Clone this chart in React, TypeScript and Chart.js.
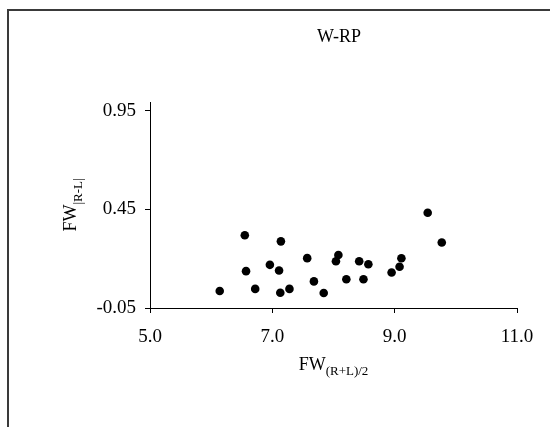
import React, { useEffect, useRef } from "react";
import { Chart, registerables } from "chart.js";

Chart.register(...registerables);

const chartTitle = "W-RP";
const xTitleMain = "FW";
const xTitleSub = "(R+L)/2";
const yTitleMain = "FW";
const yTitleSub = "|R-L|";

const xTicks = [5.0, 7.0, 9.0, 11.0];
const yTicks = [-0.05, 0.45, 0.95];

const xValues = [
  6.14, 6.55, 6.57, 6.72, 6.96, 7.11, 7.14, 7.13, 7.28,
  7.57, 7.68, 7.84, 8.04, 8.08, 8.21, 8.42, 8.49, 8.57,
  8.95, 9.08, 9.11, 9.54, 9.77,
];
const yValues = [
  0.036, 0.319, 0.137, 0.047, 0.169, 0.14, 0.288, 0.027, 0.047,
  0.203, 0.085, 0.026, 0.187, 0.219, 0.096, 0.187, 0.096, 0.172,
  0.13, 0.159, 0.202, 0.433, 0.282,
];

const FONT = '"Liberation Serif", "Times New Roman", serif';

export default function App() {
  const ref = useRef<HTMLCanvasElement>(null);

  useEffect(() => {
    if (!ref.current) return;
    const points = xValues.map((x, i) => ({ x, y: yValues[i] }));

    const textPlugin = {
      id: "customText",
      afterDraw(chart: any) {
        const ctx = chart.ctx as CanvasRenderingContext2D;
        const area = chart.chartArea;
        ctx.save();
        // frame
        ctx.fillStyle = "#3a3a3a";
        ctx.fillRect(7, 9, 543, 2);
        ctx.fillRect(7, 9, 2, 418);

        ctx.fillStyle = "#000";
        ctx.textBaseline = "alphabetic";
        // title
        ctx.font = `18px ${FONT}`;
        ctx.textAlign = "center";
        ctx.fillText(chartTitle, 339, 42);

        // x title
        const cx = (area.left + area.right) / 2;
        ctx.font = `18px ${FONT}`;
        const wMain = ctx.measureText(xTitleMain).width;
        ctx.font = `13px ${FONT}`;
        const wSub = ctx.measureText(xTitleSub).width;
        const startX = cx - (wMain + wSub) / 2;
        ctx.textAlign = "left";
        ctx.font = `18px ${FONT}`;
        ctx.fillText(xTitleMain, startX, 369.5);
        ctx.font = `13px ${FONT}`;
        ctx.fillText(xTitleSub, startX + wMain, 375);

        // y title
        const cy = (area.top + area.bottom) / 2;
        ctx.font = `18px ${FONT}`;
        const ywMain = ctx.measureText(yTitleMain).width;
        ctx.font = `13px ${FONT}`;
        const ywSub = ctx.measureText(yTitleSub).width;
        ctx.translate(76, cy + (ywMain + ywSub) / 2);
        ctx.rotate(-Math.PI / 2);
        ctx.font = `18px ${FONT}`;
        ctx.fillText(yTitleMain, 0, 0);
        ctx.font = `13px ${FONT}`;
        ctx.fillText(yTitleSub, ywMain, 6);
        ctx.restore();
      },
    };

    const chart = new Chart(ref.current, {
      type: "scatter",
      data: {
        datasets: [
          {
            data: points,
            backgroundColor: "#000",
            borderColor: "#000",
            borderWidth: 0,
            pointRadius: 4.3,
            pointHoverRadius: 4.3,
          },
        ],
      },
      options: {
        responsive: false,
        animation: false,
        devicePixelRatio: 1,
        layout: { padding: { top: 102, right: 33, left: 0, bottom: 0 } },
        plugins: {
          legend: { display: false },
          title: { display: false },
          tooltip: { enabled: false },
        },
        scales: {
          x: {
            type: "linear",
            min: xTicks[0],
            max: xTicks[xTicks.length - 1],
            afterBuildTicks: (s: any) => {
              s.ticks = xTicks.map((v) => ({ value: v }));
            },
            afterFit: (s: any) => {
              s.height = 119;
            },
            ticks: {
              color: "#000",
              font: { family: FONT, size: 19 },
              padding: 13,
              maxRotation: 0,
              callback: (v: any) => Number(v).toFixed(1),
            },
            grid: {
              drawOnChartArea: false,
              drawTicks: true,
              tickLength: 5,
              color: "#000",
            },
            border: { display: true, color: "#000", width: 1 },
          },
          y: {
            type: "linear",
            min: yTicks[0],
            max: 0.995,
            afterBuildTicks: (s: any) => {
              s.ticks = yTicks.map((v) => ({ value: v }));
            },
            afterFit: (s: any) => {
              s.width = 150;
            },
            ticks: {
              color: "#000",
              font: { family: FONT, size: 19 },
              padding: 9,
              callback: (v: any) => Number(v).toFixed(2),
            },
            grid: {
              drawOnChartArea: false,
              drawTicks: true,
              tickLength: 5,
              color: "#000",
            },
            border: { display: true, color: "#000", width: 1 },
          },
        },
      },
      plugins: [textPlugin],
    } as any);

    return () => chart.destroy();
  }, []);

  return (
    <div
      style={{
        position: "fixed",
        left: 0,
        top: 0,
        width: 550,
        height: 427,
        background: "#fff",
      }}
    >
      <canvas ref={ref} width={550} height={427} />
    </div>
  );
}
